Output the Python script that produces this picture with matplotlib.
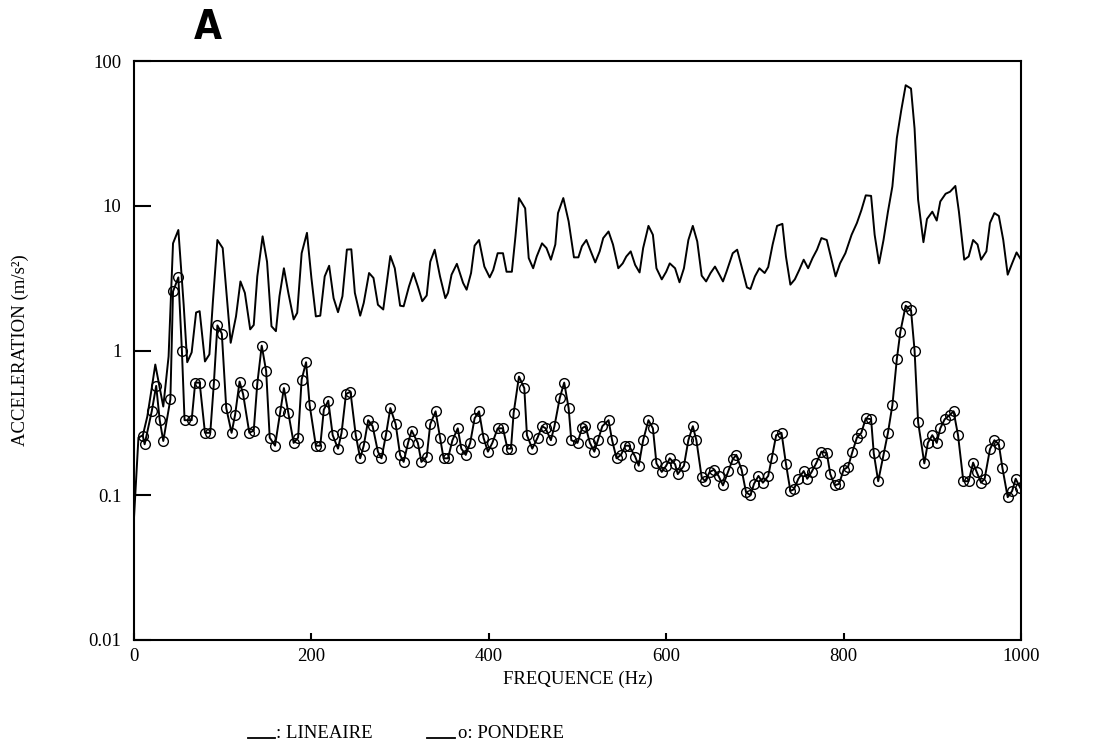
import matplotlib
matplotlib.use('Agg')
import matplotlib.pyplot as plt
from matplotlib.lines import Line2D

# LINEAIRE (unweighted) spectrum
lin_freq = [0, 5, 10, 15, 20, 24, 29, 33, 39, 44,
            50, 56, 60, 65, 70, 74, 80, 85, 89, 94,
            100, 109, 115, 120, 125, 131, 135, 139, 145, 150,
            155, 160, 164, 169, 174, 180, 184, 189, 195, 200,
            205, 210, 215, 220, 225, 230, 235, 240, 245, 249,
            255, 259, 265, 270, 275, 281, 285, 289, 294, 300,
            304, 310, 315, 320, 325, 330, 334, 339, 345, 351,
            354, 358, 364, 371, 375, 380, 384, 389, 395, 401,
            405, 410, 416, 420, 426, 430, 434, 441, 445, 450,
            454, 460, 465, 470, 475, 478, 484, 490, 496, 501,
            505, 510, 515, 520, 525, 529, 535, 540, 546, 551,
            555, 560, 565, 570, 574, 580, 585, 589, 595, 600,
            604, 610, 615, 620, 625, 630, 635, 640, 645, 650,
            655, 660, 664, 668, 675, 680, 685, 691, 695, 700,
            705, 711, 715, 720, 725, 731, 735, 740, 745, 750,
            755, 760, 765, 770, 775, 781, 786, 791, 796, 802,
            809, 815, 820, 825, 831, 835, 840, 845, 850, 855,
            860, 865, 870, 876, 880, 884, 890, 894, 900, 905,
            909, 915, 920, 926, 930, 936, 941, 946, 951, 955,
            961, 965, 970, 975, 980, 985, 990, 995, 1000]
lin_val = [0.07, 0.25, 0.26, 0.35, 0.55, 0.80, 0.55, 0.41, 0.91, 5.5,
           6.8, 2.07, 0.83, 0.97, 1.83, 1.87, 0.84, 0.94, 2.2, 5.8,
           5.1, 1.13, 1.72, 3.0, 2.5, 1.4, 1.5, 3.25, 6.15, 4.1,
           1.47, 1.36, 2.37, 3.7, 2.5, 1.64, 1.82, 4.7, 6.5, 3.17,
           1.72, 1.74, 3.25, 3.85, 2.3, 1.84, 2.37, 4.98, 5.0, 2.5,
           1.74, 2.13, 3.43, 3.17, 2.07, 1.92, 2.93, 4.5, 3.7, 2.04,
           2.02, 2.77, 3.43, 2.77, 2.19, 2.4, 4.1, 4.97, 3.25, 2.3,
           2.5, 3.34, 3.97, 2.93, 2.63, 3.43, 5.3, 5.8, 3.8, 3.2,
           3.6, 4.7, 4.7, 3.5, 3.5, 6.1, 11.3, 9.6, 4.35, 3.7,
           4.46, 5.5, 5.1, 4.24, 5.4, 8.9, 11.3, 7.8, 4.4, 4.4,
           5.25, 5.8, 4.84, 4.06, 4.84, 5.98, 6.64, 5.4, 3.7, 4.0,
           4.46, 4.84, 3.9, 3.46, 5.1, 7.26, 6.3, 3.7, 3.1, 3.5,
           4.0, 3.7, 2.96, 3.7, 5.8, 7.26, 5.67, 3.29, 3.0, 3.43,
           3.8, 3.34, 3.0, 3.5, 4.7, 4.97, 3.8, 2.73, 2.66, 3.25,
           3.7, 3.43, 3.77, 5.4, 7.26, 7.5, 4.46, 2.85, 3.1, 3.6,
           4.24, 3.7, 4.35, 4.97, 5.98, 5.8, 4.35, 3.25, 4.0, 4.7,
           6.3, 7.6, 9.3, 11.8, 11.7, 6.3, 4.0, 5.8, 9.1, 13.6,
           29.3, 45.7, 68, 64.5, 34.2, 11.0, 5.6, 8.1, 9.1, 7.9,
           10.7, 12.1, 12.5, 13.7, 9.1, 4.24, 4.46, 5.8, 5.4, 4.24,
           4.84, 7.6, 8.9, 8.5, 5.8, 3.34, 4.0, 4.76, 4.24]

# PONDERE (weighted) spectrum
pon_freq = [10, 12, 20, 25, 29, 33, 41, 44, 50, 54,
            57, 65, 69, 74, 80, 86, 90, 94, 99, 104,
            110, 114, 119, 123, 130, 135, 139, 144, 149, 153,
            159, 165, 169, 174, 180, 185, 189, 194, 198, 205,
            210, 214, 219, 224, 230, 234, 239, 244, 250, 255,
            259, 264, 269, 275, 279, 284, 289, 295, 300, 304,
            309, 313, 320, 324, 330, 334, 340, 345, 349, 354,
            359, 365, 369, 374, 379, 384, 389, 394, 399, 404,
            410, 416, 421, 425, 428, 434, 440, 443, 449, 455,
            460, 464, 470, 474, 480, 485, 490, 493, 500, 505,
            509, 514, 519, 523, 528, 535, 539, 544, 549, 554,
            558, 565, 569, 574, 580, 585, 589, 595, 600, 604,
            610, 613, 620, 625, 630, 634, 640, 644, 649, 654,
            659, 664, 670, 675, 679, 685, 690, 695, 699, 704,
            709, 715, 719, 724, 730, 735, 740, 744, 749, 755,
            759, 764, 769, 775, 781, 785, 790, 795, 800, 805,
            810, 815, 820, 825, 831, 834, 839, 845, 850, 855,
            860, 864, 870, 876, 880, 884, 891, 895, 900, 905,
            909, 914, 920, 924, 929, 935, 941, 946, 950, 955,
            959, 965, 970, 975, 979, 985, 990, 994, 999]
pon_val = [0.256, 0.225, 0.38, 0.57, 0.33, 0.237, 0.46, 2.56, 3.2, 1.0,
           0.33, 0.33, 0.60, 0.60, 0.27, 0.27, 0.59, 1.49, 1.31, 0.40,
           0.27, 0.36, 0.61, 0.50, 0.27, 0.28, 0.59, 1.08, 0.72, 0.25,
           0.22, 0.38, 0.55, 0.37, 0.23, 0.25, 0.63, 0.83, 0.42, 0.22,
           0.22, 0.39, 0.45, 0.26, 0.21, 0.27, 0.50, 0.52, 0.26, 0.18,
           0.22, 0.33, 0.30, 0.20, 0.18, 0.26, 0.40, 0.31, 0.19, 0.17,
           0.23, 0.28, 0.23, 0.17, 0.185, 0.31, 0.38, 0.25, 0.18, 0.18,
           0.24, 0.29, 0.21, 0.19, 0.23, 0.34, 0.38, 0.25, 0.20, 0.23,
           0.29, 0.29, 0.21, 0.21, 0.37, 0.66, 0.55, 0.26, 0.21, 0.25,
           0.30, 0.29, 0.24, 0.30, 0.47, 0.60, 0.40, 0.24, 0.23, 0.29,
           0.30, 0.23, 0.20, 0.24, 0.30, 0.33, 0.24, 0.18, 0.19, 0.22,
           0.22, 0.185, 0.16, 0.24, 0.33, 0.29, 0.166, 0.145, 0.16, 0.18,
           0.164, 0.14, 0.16, 0.24, 0.30, 0.24, 0.133, 0.125, 0.145, 0.15,
           0.136, 0.117, 0.147, 0.177, 0.19, 0.15, 0.105, 0.10, 0.12, 0.136,
           0.122, 0.136, 0.18, 0.26, 0.27, 0.165, 0.107, 0.11, 0.13, 0.147,
           0.13, 0.145, 0.166, 0.20, 0.196, 0.14, 0.117, 0.12, 0.15, 0.157,
           0.20, 0.25, 0.27, 0.34, 0.335, 0.195, 0.125, 0.19, 0.27, 0.42,
           0.87, 1.35, 2.04, 1.9, 1.0, 0.32, 0.166, 0.23, 0.26, 0.23,
           0.29, 0.335, 0.36, 0.38, 0.26, 0.125, 0.125, 0.168, 0.145, 0.122,
           0.13, 0.208, 0.24, 0.225, 0.155, 0.097, 0.107, 0.13, 0.113]

y_ticks = [0.01, 0.1, 1, 10, 100]
y_ticklabels = ['0.01', '0.1', '1', '10', '100']
x_ticks = [0, 200, 400, 600, 800, 1000]

W, H = 1095, 745
SERIF = 'Liberation Serif'

fig = plt.figure(figsize=(W / 100, H / 100), dpi=100)
ax = fig.add_axes([134 / W, 1 - 640 / H, (1021 - 134) / W, (640 - 61) / H])

ax.plot(lin_freq, lin_val, color='black', lw=1.4)
ax.plot(pon_freq, pon_val, color='black', lw=1.4, marker='o', ms=7,
        mfc='none', mec='black', mew=1.0)

ax.set_yscale('log')
ax.set_xlim(0, 1000)
ax.set_ylim(0.01, 100)
ax.set_yticks(y_ticks)
ax.set_yticklabels(y_ticklabels)
ax.yaxis.set_minor_locator(matplotlib.ticker.NullLocator())
ax.set_xticks(x_ticks)
ax.set_xticklabels([str(t) for t in x_ticks])

for s in ax.spines.values():
    s.set_linewidth(1.5)
ax.tick_params(axis='y', direction='in', length=12, width=1.5, pad=9,
               labelsize=13.5, right=False)
ax.tick_params(axis='x', direction='in', length=5, width=1.5, pad=6,
               labelsize=13.5, top=False)
for lab in ax.get_xticklabels() + ax.get_yticklabels():
    lab.set_fontfamily(SERIF)

ax.set_xlabel('FREQUENCE (Hz)', fontsize=13.5, fontfamily=SERIF, labelpad=4)
fig.text(20 / W, 1 - 350 / H, 'ACCELERATION (m/s²)', rotation=90,
         ha='center', va='center', fontsize=13.5, fontfamily=SERIF)

fig.text(208 / W, 1 - 28 / H, 'A', ha='center', va='center', fontsize=29,
         fontweight='bold', fontfamily='DejaVu Sans', fontstretch='condensed')

# legend row
base_y = 1 - 738 / H
fig.add_artist(Line2D([248 / W, 275 / W], [base_y, base_y], color='black',
                      lw=1.3, transform=fig.transFigure))
fig.text(276 / W, base_y, ': LINEAIRE', ha='left', va='baseline',
         fontsize=13.5, fontfamily=SERIF)
fig.add_artist(Line2D([427 / W, 455 / W], [base_y, base_y], color='black',
                      lw=1.3, transform=fig.transFigure))
fig.text(458 / W, base_y, 'o: PONDERE', ha='left', va='baseline',
         fontsize=13.5, fontfamily=SERIF)

fig.savefig('out.png', dpi=100)
